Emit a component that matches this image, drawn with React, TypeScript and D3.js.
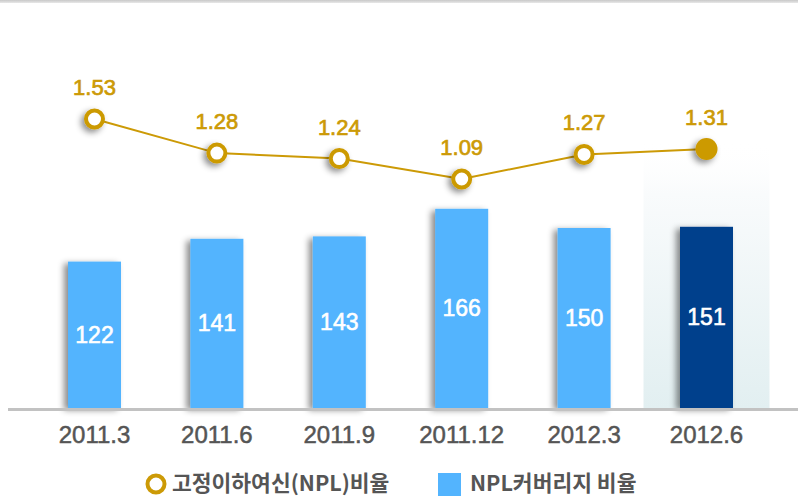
import React from "react";
import * as d3 from "d3";

const categories = ["2011.3", "2011.6", "2011.9", "2011.12", "2012.3", "2012.6"];
const coverage = [122, 141, 143, 166, 150, 151];
const nplRatio = [1.53, 1.28, 1.24, 1.09, 1.27, 1.31];
const legendLabels = ["고정이하여신(NPL)비율", "NPL커버리지 비율"];

const W = 798;
const H = 497;
const GOLD = "#CC9A06";
const LIGHT = "#53B4FE";
const DARK = "#013F8C";
const NUM_FONT = "'Liberation Sans', Arial, Helvetica, sans-serif";
const KR_FONT = "'Noto Sans CJK KR', 'Noto Sans', sans-serif";

export default function App() {
  const x = d3.scalePoint<string>().domain(categories).range([33.3, 767.7]).padding(0.5);
  const yBar = d3.scaleLinear().domain([0, 340]).range([408, 0]);
  const yLine = d3.scaleLinear().domain([1.09, 1.53]).range([179, 119]);
  const barW = 53;
  const last = categories.length - 1;

  const line = d3
    .line<number>()
    .x((_, i) => x(categories[i]) as number)
    .y((d) => yLine(d));

  return (
    <svg
      width={W}
      height={H}
      viewBox={`0 0 ${W} ${H}`}
      style={{ position: "absolute", left: 0, top: 0, background: "#fff" }}
    >
      <defs>
        <linearGradient id="hl" x1="0" y1="0" x2="0" y2="1">
          <stop offset="0" stopColor="#ffffff" stopOpacity="0" />
          <stop offset="0.2" stopColor="#f9fbfc" stopOpacity="1" />
          <stop offset="1" stopColor="#e2eff1" stopOpacity="1" />
        </linearGradient>
        <linearGradient id="topline" x1="0" y1="0" x2="0" y2="1">
          <stop offset="0" stopColor="#c8c8c8" />
          <stop offset="1" stopColor="#e8e8e8" />
        </linearGradient>
        <filter id="barShadow" x="-40%" y="-10%" width="160%" height="120%">
          <feDropShadow dx="-4" dy="2" stdDeviation="3" floodColor="#000" floodOpacity="0.45" />
        </filter>
        <filter id="dotShadow" x="-80%" y="-80%" width="260%" height="260%">
          <feDropShadow dx="-3" dy="3" stdDeviation="3" floodColor="#000" floodOpacity="0.45" />
        </filter>
      </defs>

      {/* top border */}
      <rect x={0} y={0} width={W} height={3} fill="url(#topline)" />

      {/* highlight background for last category */}
      <rect
        x={(x(categories[last]) as number) - 63}
        y={140}
        width={126}
        height={yBar(0) - 140}
        fill="url(#hl)"
      />

      {/* bars */}
      {coverage.map((v, i) => (
        <rect
          key={"b" + i}
          x={(x(categories[i]) as number) - barW / 2}
          y={yBar(v)}
          width={barW}
          height={yBar(0) - yBar(v)}
          fill={i === last ? DARK : LIGHT}
          filter="url(#barShadow)"
        />
      ))}
      {coverage.map((v, i) => (
        <text
          key={"bl" + i}
          x={x(categories[i]) as number}
          y={(yBar(v) + yBar(0)) / 2 + 8}
          textAnchor="middle"
          fill="#fff"
          stroke="#fff"
          strokeWidth={0.6}
          fontFamily={NUM_FONT}
          fontSize={23}
        >
          {v}
        </text>
      ))}

      {/* axis line */}
      <rect x={8} y={408} width={W - 8} height={3} fill="#c2c2c2" />

      {/* x labels */}
      {categories.map((c) => (
        <text
          key={"x" + c}
          x={x(c) as number}
          y={443}
          textAnchor="middle"
          fill="#555"
          stroke="#555"
          strokeWidth={0.5}
          fontFamily={NUM_FONT}
          fontSize={24}
        >
          {c}
        </text>
      ))}

      {/* line */}
      <path d={line(nplRatio) || ""} fill="none" stroke={GOLD} strokeWidth={2} />
      {nplRatio.map((v, i) =>
        i === last ? (
          <circle
            key={"p" + i}
            cx={x(categories[i]) as number}
            cy={yLine(v)}
            r={11}
            fill={GOLD}
            filter="url(#dotShadow)"
          />
        ) : (
          <circle
            key={"p" + i}
            cx={x(categories[i]) as number}
            cy={yLine(v)}
            r={8.5}
            fill="#fff"
            stroke={GOLD}
            strokeWidth={4}
            filter="url(#dotShadow)"
          />
        )
      )}
      {nplRatio.map((v, i) => (
        <text
          key={"pl" + i}
          x={x(categories[i]) as number}
          y={yLine(v) - 24}
          textAnchor="middle"
          fill={GOLD}
          stroke={GOLD}
          strokeWidth={0.7}
          fontFamily={NUM_FONT}
          fontSize={22}
        >
          {v.toFixed(2)}
        </text>
      ))}

      {/* legend */}
      <circle cx={156} cy={484} r={8.5} fill="#fff" stroke={GOLD} strokeWidth={4} />
      <text x={172} y={491} fill="#555" fontFamily={KR_FONT} fontWeight="bold" fontSize={21.5}>
        {legendLabels[0]}
      </text>
      <rect x={438} y={473} width={23} height={23} fill={LIGHT} />
      <text x={470} y={491} fill="#555" fontFamily={KR_FONT} fontWeight="bold" fontSize={21.5}>
        {legendLabels[1]}
      </text>
    </svg>
  );
}
